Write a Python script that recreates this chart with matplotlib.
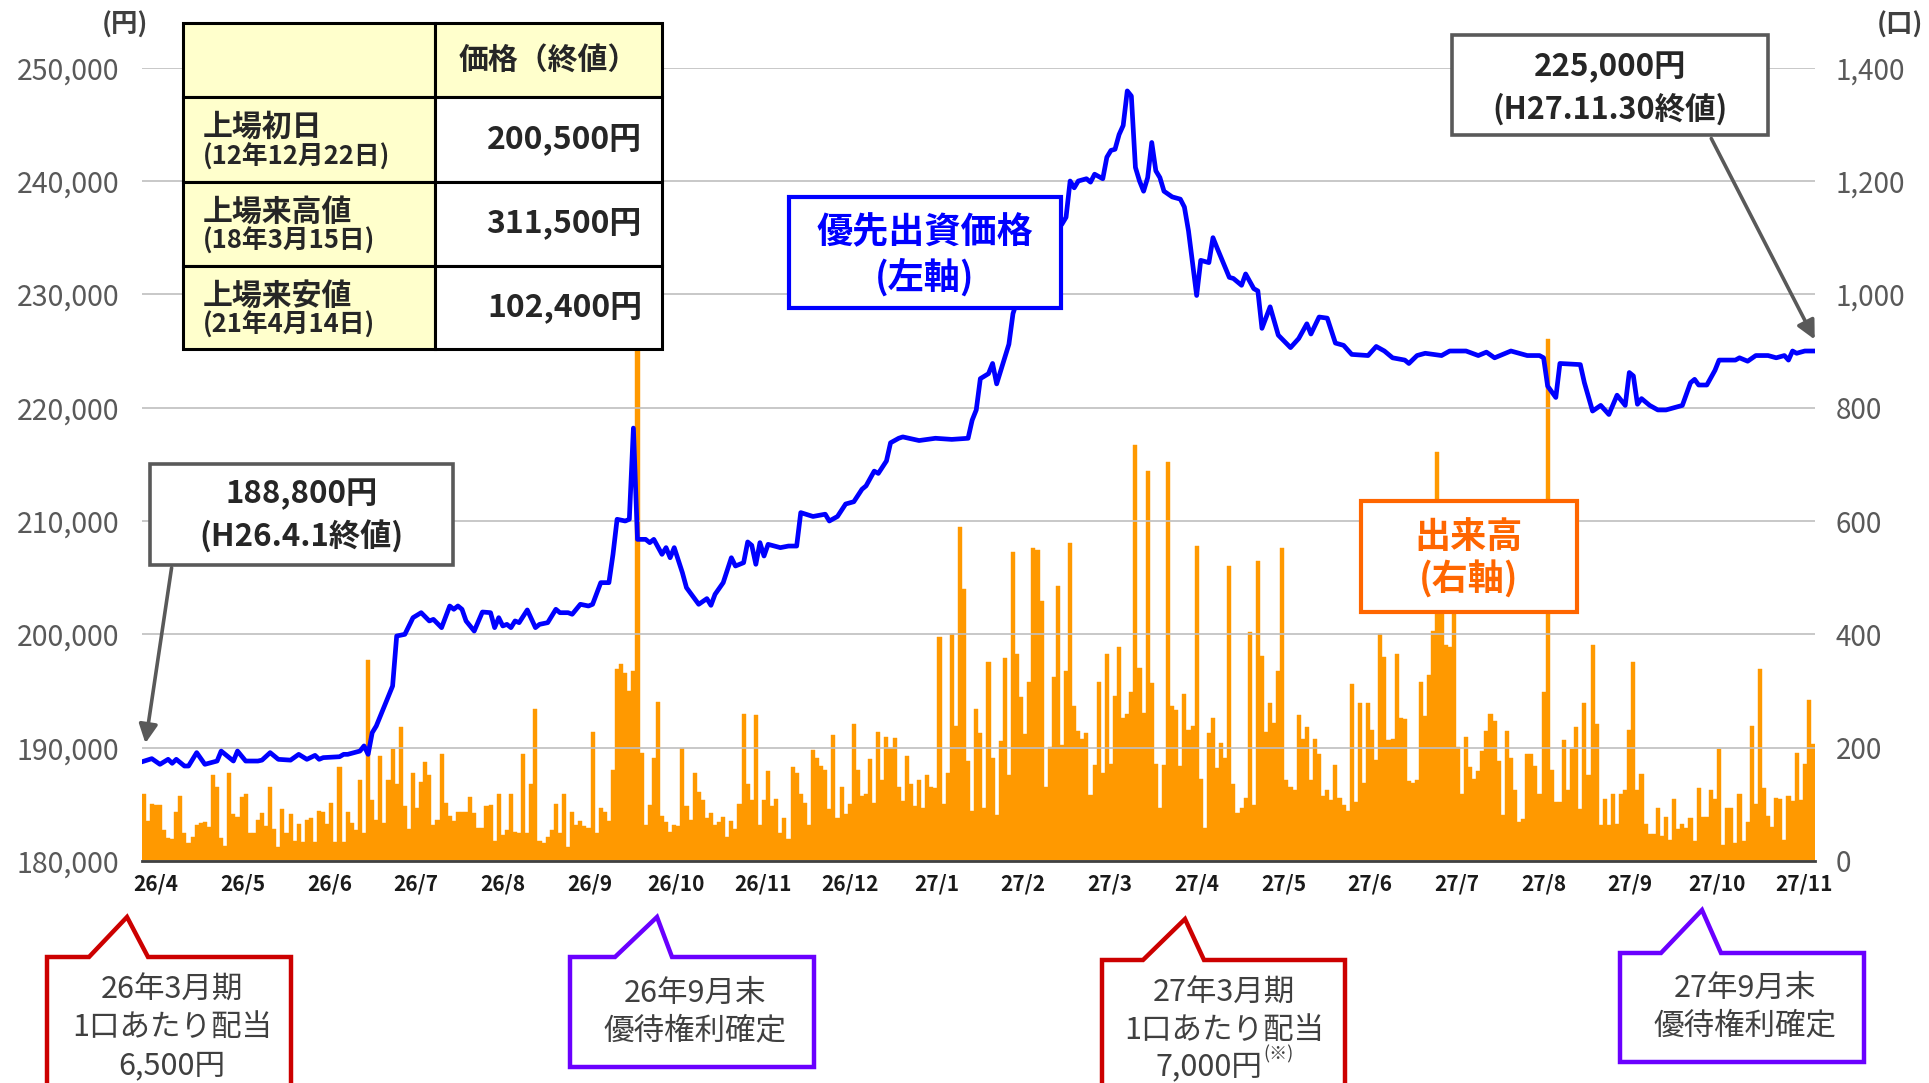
import matplotlib
matplotlib.use('Agg')
import matplotlib.pyplot as plt
from matplotlib.patches import Rectangle, Polygon
from matplotlib.ticker import FuncFormatter

plt.rcParams['font.family'] = ['Noto Sans CJK JP', 'DejaVu Sans']

# 出来高（口）: 日次
volume = [
    119, 70, 101, 98, 98, 55, 40, 38, 87, 115, 50, 31, 43, 64, 67, 68, 60, 152, 131, 40,
    27, 156, 83, 78, 113, 119, 49, 49, 73, 85, 62, 131, 57, 24, 92, 50, 83, 35, 66, 34,
    73, 75, 34, 89, 87, 65, 103, 34, 165, 34, 86, 67, 55, 143, 50, 355, 107, 73, 186, 67,
    143, 198, 136, 237, 97, 56, 156, 94, 140, 174, 152, 64, 73, 189, 103, 80, 71, 87, 87, 87,
    113, 84, 58, 59, 97, 99, 36, 118, 46, 55, 118, 52, 50, 189, 49, 136, 268, 35, 32, 43,
    54, 101,
    50, 118, 24, 87, 64, 71, 62, 59, 228, 50, 94, 87, 71, 161, 338, 347, 331, 300, 335, 1000,
    191, 64, 98, 182, 280, 80, 68, 52, 64, 61, 199, 97, 73, 156, 122, 107, 75, 85, 64, 68,
    77, 43, 70, 57, 101, 259, 136, 107, 257, 64, 107, 158, 97, 110, 50, 75, 38, 166, 156, 119,
    103, 64, 196, 182, 167, 161, 92, 222, 76, 131, 83, 101, 242, 161, 115, 119, 180, 103, 228, 143,
    219, 200, 217, 131, 106, 186, 136, 97, 143, 94, 152, 131, 128, 395, 100, 155, 400, 238, 590, 480,
    177, 88, 268,
    225, 94, 351, 181, 81, 211, 358, 152, 545, 365, 289, 224, 316, 553, 548, 458, 131, 202, 325, 486,
    205, 335, 562, 274, 229, 216, 225, 116, 169, 316, 155, 365, 171, 291, 378, 252, 260, 298, 734, 341,
    262, 688, 314, 172, 94, 169, 704, 274, 266, 168, 294, 232, 239, 555, 145, 59, 226, 252, 164, 209,
    182, 521, 135, 85, 94, 111, 404, 99, 529, 362, 228, 278, 244, 335, 553, 143, 131, 125, 257, 215,
    236, 143, 216, 188, 115, 126, 107, 170, 111, 99, 88, 312, 104, 279, 138, 279, 232, 179, 401, 360,
    214, 216, 366,
    252, 250, 141, 137, 143, 316, 256, 328, 406, 722, 440, 381, 378, 450, 202, 118, 219, 165, 145, 159,
    194, 229, 259, 247, 176, 81, 229, 182, 126, 69, 74, 188, 188, 168, 119, 298, 922, 161, 104, 104,
    214, 126, 198, 236, 92, 279, 151, 381, 241, 63, 110, 63, 119, 65, 119, 125, 231, 351, 125, 153,
    65, 47, 47, 94, 44, 78, 37, 110, 56, 66, 59, 76, 35, 128, 78, 78, 125, 110, 198, 29,
    94, 94, 32, 118, 35, 69, 238, 101, 339, 128, 79, 60, 111, 109, 37, 115, 106, 191, 107, 171,
    284, 207,
]

# 優先出資価格（円）: 営業日番号と終値
price_day = [
    0, 2, 4, 6, 7, 8, 10, 11, 13, 15, 18, 19, 22, 23, 25, 28, 29, 31, 33, 36,
    38, 40, 42, 43, 44, 48, 49, 50, 53, 54, 55, 56, 57, 59, 61, 62, 64, 66, 68, 70,
    71, 73, 75, 76, 77, 78, 79, 81, 83, 85, 86, 87, 88, 89, 90, 91, 92, 94, 96, 97,
    99, 101, 102, 104, 105, 107, 109, 110, 112, 114, 115, 116, 118, 119, 120, 121, 123, 124, 125, 127,
    128, 129, 130, 132, 133, 136, 138, 139, 140, 142, 144, 145, 147, 148, 149, 150, 151, 152, 153, 156,
    158, 160, 161, 164, 167, 168, 170, 172, 174, 176, 177, 179, 180, 182, 183, 185, 186, 190, 194, 198,
    202, 203, 204, 205, 207, 208, 209, 212, 213, 215, 220, 222, 225, 226, 227, 228, 229, 231, 232, 233,
    235, 236, 237, 238, 239, 240, 241, 242, 243, 244, 245, 246, 247, 248, 249, 250, 252, 254, 255, 256,
    258, 259, 261, 262, 263, 266, 267, 269, 270, 272, 273, 274, 276, 278, 281, 283, 285, 286, 288, 290,
    292, 294, 296, 300, 302, 304, 306, 309, 310, 312, 314, 318, 320, 324, 327, 329, 331, 335, 339, 342,
    343, 344, 346, 347, 352, 353, 355, 357, 359, 361, 363, 364, 365, 366, 367, 369, 371, 373, 377, 379,
    380, 381, 383, 385, 386, 390, 391, 393, 395, 398, 400, 402, 403, 404, 405, 407, 409,
]
price_close = [
    188800, 189030, 188530, 188970, 188620, 188970, 188380, 188380, 189560, 188530,
    188820, 189700, 188820, 189700, 188820, 188820, 188900, 189560, 188970, 188900,
    189410, 188970, 189320, 188970, 189120, 189200, 189410, 189410, 189700, 190150,
    189410, 191320, 191910, 193680, 195440, 199850, 200000, 201470, 201910, 201180,
    201320, 200590, 202500, 202210, 202500, 202210, 201180, 200290, 201970, 201910,
    200590, 201470, 200740, 200880, 200590, 201180, 201030, 202150, 200590, 200880,
    201030, 202210, 201910, 201910, 201770, 202650, 202500, 202650, 204560, 204560,
    207060, 210150, 210000, 210150, 218200, 208380, 208380, 208090, 208380, 207060,
    207650, 206760, 207650, 205440, 204120, 202650, 203150, 202560, 203530, 204560,
    206760, 206030, 206320, 208150, 207850, 206180, 208090, 206910, 207940, 207650,
    207790, 207790, 210740, 210400, 210600, 210000, 210400, 211500, 211700, 212800,
    213100, 214400, 214200, 215300, 216900, 217300, 217420, 217100, 217300, 217200,
    217300, 218900, 219800, 222560, 223000, 223900, 222100, 225600, 228300, 230500,
    233000, 235000, 236200, 236800, 240000, 239400, 240000, 240200, 239900, 240600,
    240200, 242100, 242700, 242800, 244100, 244900, 247950, 247500, 241200, 240000,
    239100, 240300, 243400, 240900, 240300, 239100, 238600, 238400, 237700, 235600,
    229900, 233000, 232800, 235000, 234100, 231500, 231400, 230800, 231800, 230500,
    230300, 227000, 228900, 226400, 225300, 226100, 227400, 226500, 228000, 227900,
    225700, 225500, 224700, 224600, 225400, 225000, 224400, 224200, 223900, 224600,
    224800, 224600, 225000, 225000, 224600, 224900, 224400, 225000, 224600, 224600,
    224400, 221900, 220900, 223900, 223800, 222200, 219700, 220200, 219400, 221100,
    220200, 223100, 222800, 220300, 220800, 220200, 219800, 219800, 220200, 222200,
    222500, 222000, 222000, 223300, 224200, 224200, 224400, 224100, 224600, 224600,
    224400, 224600, 224200, 225000, 224800, 225000, 225000,
]

month_labels = ['26/4', '26/5', '26/6', '26/7', '26/8', '26/9', '26/10', '26/11', '26/12',
                '27/1', '27/2', '27/3', '27/4', '27/5', '27/6', '27/7', '27/8', '27/9',
                '27/10', '27/11']

table_labels = ['上場初日', '上場来高値', '上場来安値']
table_dates = ['(12年12月22日)', '(18年3月15日)', '(21年4月14日)']
table_values = ['200,500円', '311,500円', '102,400円']

fig = plt.figure(figsize=(19.29, 10.83), dpi=100)
ax = fig.add_axes([0.0734, 0.205, 0.8675, 0.7325])
ax2 = ax.twinx()

# 出来高（右軸）
ax2.bar(range(len(volume)), volume, width=1.0, color='#FF9900',
        edgecolor='#FF9900', linewidth=0.3)
ax2.set_ylim(0, 1400)
ax2.set_yticks(range(0, 1401, 200))
ax2.yaxis.set_major_formatter(FuncFormatter(lambda v, p: f'{int(v):,}'))
ax2.tick_params(axis='y', length=0, pad=15, labelsize=20, labelcolor='#595959')

# 価格（左軸）
ax.set_zorder(ax2.get_zorder() + 1)
ax.patch.set_visible(False)
ax.plot(price_day, price_close, color='#0000FF', lw=3.4, solid_joinstyle='round')
ax.set_ylim(180000, 250000)
ax.set_yticks(range(180000, 250001, 10000))
ax.yaxis.set_major_formatter(FuncFormatter(lambda v, p: f'{int(v):,}'))
ax.tick_params(axis='y', length=0, pad=16, labelsize=20.5, labelcolor='#595959')
ax.yaxis.grid(True, color='#BFBFBF', lw=1.2)
ax.set_axisbelow(True)

ax.set_xlim(-0.5, len(volume) - 0.5)
tick_pos = [3 + 21.25 * i for i in range(len(month_labels))]
ax.set_xticks(tick_pos)
ax.set_xticklabels(month_labels, fontsize=15, fontweight='bold', color='#1A1A1A')
ax.tick_params(axis='x', length=0, pad=9)

for a in (ax, ax2):
    for s in ('top', 'left', 'right', 'bottom'):
        a.spines[s].set_visible(False)
ax.spines['bottom'].set_visible(True)
ax.spines['bottom'].set_color('#404040')
ax.spines['bottom'].set_linewidth(2)

# 注記用のオーバーレイ（ピクセル座標）
ov = fig.add_axes([0, 0, 1, 1])
ov.set_zorder(ax.get_zorder() + 1)
ov.set_xlim(0, 1929)
ov.set_ylim(1083, 0)
ov.axis('off')

ov.text(125, 25, '(円)', ha='center', va='center', fontsize=19, fontweight='bold', color='#404040')
ov.text(1900, 25, '(口)', ha='center', va='center', fontsize=19, fontweight='bold', color='#404040')

# 表
yellow = '#FFFFCC'
col_x = [182.5, 435, 662]
row_y = [22.5, 97, 181.5, 265.5, 349]
for r in range(4):
    for c in range(2):
        fc = yellow if (r == 0 or c == 0) else 'white'
        ov.add_patch(Rectangle((col_x[c], row_y[r]), col_x[c + 1] - col_x[c],
                               row_y[r + 1] - row_y[r], fc=fc, ec='black', lw=2.2, zorder=5))
ov.text(548.5, 60, '価格（終値）', ha='center', va='center', fontsize=21.5,
        fontweight='bold', color='#262626', zorder=6)
for i in range(3):
    top = row_y[i + 1]
    ov.text(203, top + 30, table_labels[i], ha='left', va='center', fontsize=21.5,
            fontweight='bold', color='#262626', zorder=6)
    ov.text(203, top + 60, table_dates[i], ha='left', va='center', fontsize=18.5,
            fontweight='bold', color='#262626', zorder=6)
    ov.text(642, top + 42, table_values[i], ha='right', va='center', fontsize=23,
            fontweight='bold', color='#262626', zorder=6)

# 終値の吹き出し
ov.annotate('', xy=(145, 746), xytext=(172, 565),
            arrowprops=dict(arrowstyle='-|>', color='#595959', lw=2.6, mutation_scale=28))
ov.add_patch(Rectangle((150, 464), 303, 101, fc='white', ec='#595959', lw=2.6, zorder=5))
ov.text(301.5, 494, '188,800円', ha='center', va='center', fontsize=22.5,
        fontweight='bold', color='#262626', zorder=6)
ov.text(301.5, 537, '(H26.4.1終値)', ha='center', va='center', fontsize=22.5,
        fontweight='bold', color='#262626', zorder=6)

ov.annotate('', xy=(1816, 342), xytext=(1710, 136),
            arrowprops=dict(arrowstyle='-|>', color='#595959', lw=2.6, mutation_scale=28))
ov.add_patch(Rectangle((1452, 34.5), 316, 100.5, fc='white', ec='#595959', lw=2.6, zorder=5))
ov.text(1610, 67, '225,000円', ha='center', va='center', fontsize=22.5,
        fontweight='bold', color='#262626', zorder=6)
ov.text(1610, 109, '(H27.11.30終値)', ha='center', va='center', fontsize=22,
        fontweight='bold', color='#262626', zorder=6)

# 系列ラベル
ov.add_patch(Rectangle((788.5, 197), 272, 110.5, fc='white', ec='#0000FF', lw=3, zorder=5))
ov.text(924.5, 233, '優先出資価格', ha='center', va='center', fontsize=26,
        fontweight='bold', color='#0000FF', zorder=6)
ov.text(924.5, 277, '(左軸)', ha='center', va='center', fontsize=26,
        fontweight='bold', color='#0000FF', zorder=6)

ov.add_patch(Rectangle((1360.5, 500.5), 216.5, 111, fc='white', ec='#FF6600', lw=3, zorder=5))
ov.text(1469, 537, '出来高', ha='center', va='center', fontsize=26,
        fontweight='bold', color='#FF6600', zorder=6)
ov.text(1469, 580, '(右軸)', ha='center', va='center', fontsize=26,
        fontweight='bold', color='#FF6600', zorder=6)


def bubble(left, right, top, bottom, pl, pr, apex, color):
    pts = [(left, bottom), (left, top), (pl, top), apex, (pr, top), (right, top), (right, bottom)]
    ov.add_patch(Polygon(pts, closed=True, fc='white', ec=color, lw=3.2,
                         joinstyle='miter', zorder=5))


red = '#CC0000'
purple = '#6A00FF'
txt = dict(ha='center', va='center', fontsize=22, color='#404040', zorder=6)

bubble(47, 291, 957, 1110, 89, 148, (127, 917), red)
ov.text(172, 990, '26年3月期', **txt)
ov.text(172, 1028, '1口あたり配当', **txt)
ov.text(172, 1066, '6,500円', **txt)

bubble(570, 814, 957, 1067, 615, 672, (657, 917), purple)
ov.text(695, 993, '26年9月末', **txt)
ov.text(695, 1031, '優待権利確定', **txt)

bubble(1102, 1345, 960, 1110, 1143, 1204, (1185, 919), red)
ov.text(1224, 993, '27年3月期', **txt)
ov.text(1224, 1031, '1口あたり配当', **txt)
ov.text(1262, 1067, '7,000円', ha='right', va='center', fontsize=22, color='#404040', zorder=6)
ov.text(1263, 1054, '(※)', ha='left', va='center', fontsize=13, color='#404040', zorder=6)

bubble(1620, 1864, 953, 1062, 1661, 1721, (1702, 910), purple)
ov.text(1745, 988, '27年9月末', **txt)
ov.text(1745, 1026, '優待権利確定', **txt)

fig.savefig('out.png', dpi=100)
